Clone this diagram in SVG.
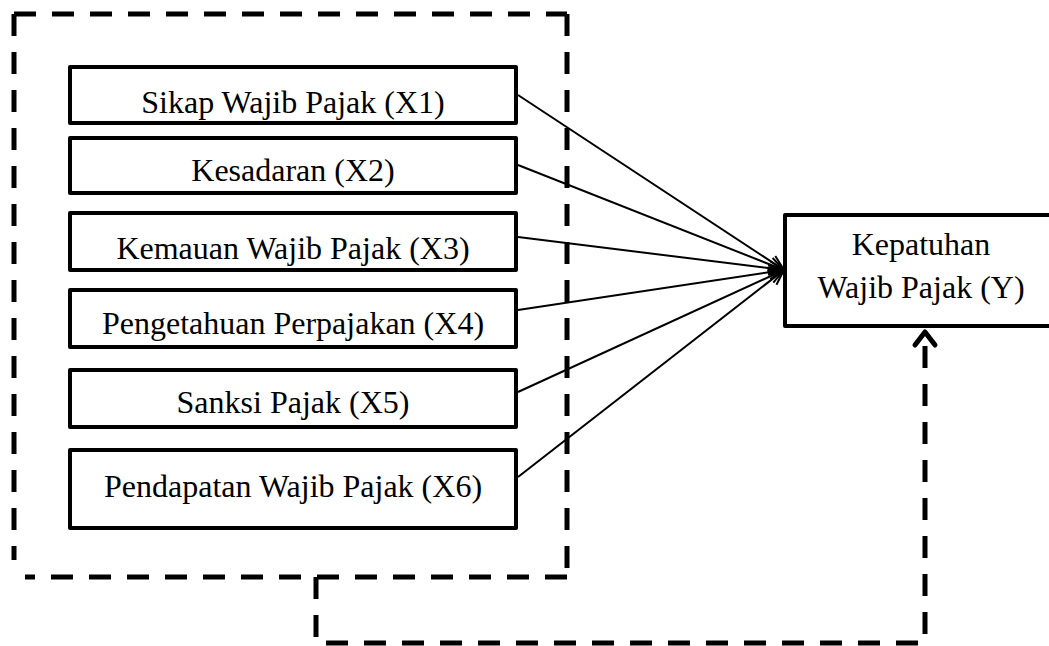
<svg xmlns="http://www.w3.org/2000/svg" width="1049" height="646" viewBox="0 0 1049 646">
<style>
.box{fill:#fff;stroke:#000;stroke-width:4;stroke-linejoin:round}
.lbl{font-family:"Liberation Serif","Times New Roman",serif;font-size:32px;fill:#000;text-anchor:middle}
.dash{fill:none;stroke:#000;stroke-width:5;stroke-dasharray:22 16}
.edge{fill:none;stroke:#000;stroke-width:2}
</style>
<defs>
<marker id="arr" markerUnits="userSpaceOnUse" markerWidth="20" markerHeight="20" refX="16" refY="8" orient="auto">
<path d="M1,1 L16,8 L1,15" fill="none" stroke="#000" stroke-width="2"/>
</marker>
</defs>
<rect width="1049" height="646" fill="#fff"/>
<g id="group-border">
<line class="dash" x1="14" y1="14" x2="567" y2="14"/>
<line class="dash" x1="14" y1="14" x2="14" y2="560"/>
<line class="dash" x1="567" y1="14" x2="567" y2="577"/>
<line class="dash" x1="567" y1="577" x2="25" y2="577"/>
</g>
<g id="connectors">
<line class="edge" x1="518" y1="95" x2="784" y2="270" marker-end="url(#arr)"/>
<line class="edge" x1="518" y1="165" x2="784" y2="270" marker-end="url(#arr)"/>
<line class="edge" x1="518" y1="237" x2="784" y2="270" marker-end="url(#arr)"/>
<line class="edge" x1="518" y1="310" x2="784" y2="270" marker-end="url(#arr)"/>
<line class="edge" x1="518" y1="392" x2="784" y2="270" marker-end="url(#arr)"/>
<line class="edge" x1="518" y1="477" x2="784" y2="270" marker-end="url(#arr)"/>
<path class="dash" d="M316,577 V643 H925 V340"/>
<polyline points="915,345 925,332 935,345" fill="none" stroke="#000" stroke-width="5" stroke-linejoin="round" stroke-linecap="round"/>
</g>
<g id="node-x1"><rect class="box" x="70" y="67" width="446" height="56"/><text class="lbl" x="293" y="113">Sikap Wajib Pajak (X1)</text></g>
<g id="node-x2"><rect class="box" x="70" y="138" width="446" height="55"/><text class="lbl" x="293" y="181">Kesadaran (X2)</text></g>
<g id="node-x3"><rect class="box" x="70" y="213" width="446" height="57"/><text class="lbl" x="293" y="259">Kemauan Wajib Pajak (X3)</text></g>
<g id="node-x4"><rect class="box" x="70" y="290" width="446" height="57"/><text class="lbl" x="293" y="334">Pengetahuan Perpajakan (X4)</text></g>
<g id="node-x5"><rect class="box" x="70" y="370" width="446" height="57"/><text class="lbl" x="293" y="413">Sanksi Pajak (X5)</text></g>
<g id="node-x6"><rect class="box" x="70" y="450" width="446" height="78"/><text class="lbl" x="293" y="497">Pendapatan Wajib Pajak (X6)</text></g>
<g id="node-y"><rect class="box" x="785" y="215" width="272" height="111"/><text class="lbl" x="921" y="255">Kepatuhan</text><text class="lbl" x="921" y="298">Wajib Pajak (Y)</text></g>
</svg>
